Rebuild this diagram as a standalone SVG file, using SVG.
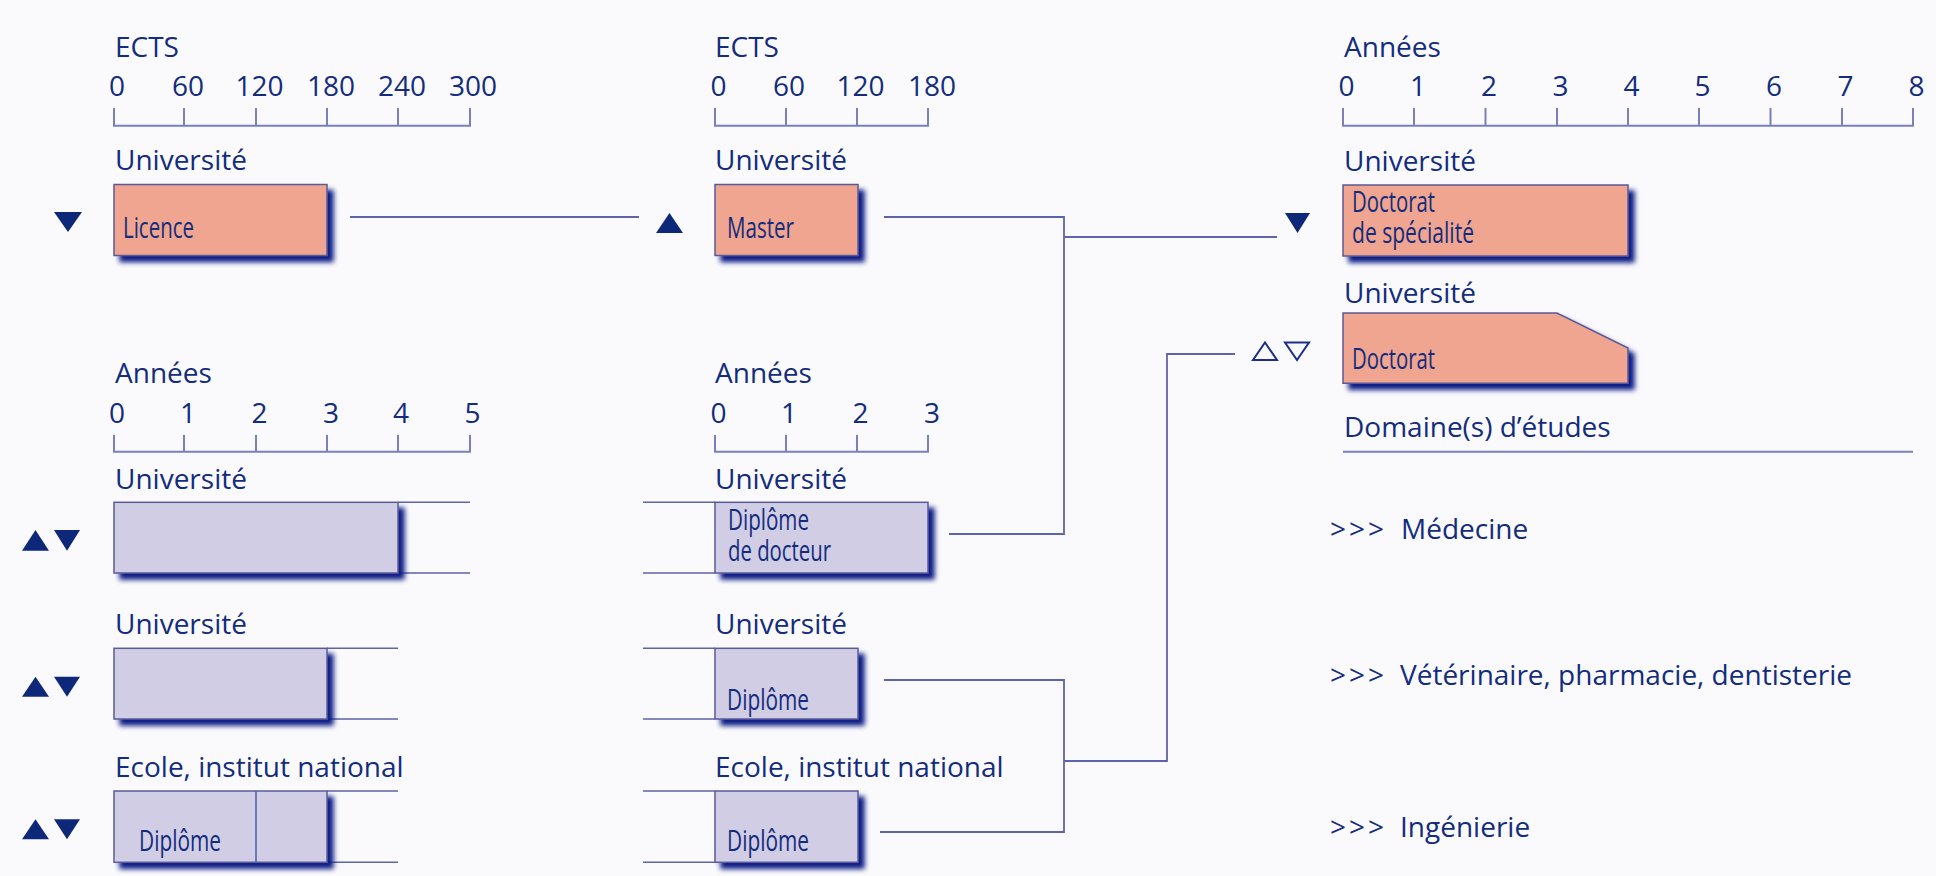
<svg xmlns="http://www.w3.org/2000/svg" width="1936" height="876" viewBox="0 0 1936 876">
<defs>
<style>
.t{font-family:"Open Sans","Noto Sans","Liberation Sans",sans-serif;font-size:28px;fill:#132C7D}
.n{text-anchor:middle}
.g{letter-spacing:3px}
.c{font-family:"Open Sans","Noto Sans","Liberation Sans",sans-serif;font-size:28.5px;fill:#132C7D}
.ax{fill:none;stroke:#7A7FBD;stroke-width:2}
.ln{fill:none;stroke:#5E63AA;stroke-width:1.8}
.ext{fill:none;stroke:#5E63AA;stroke-width:1.6}
.sal{fill:#EFA58F;stroke:#5A5A9A;stroke-width:1.5}
.lav{fill:#D1CDE5;stroke:#5A5A9A;stroke-width:1.5}
.tri{fill:#0D2878}
.otri{fill:none;stroke:#1B2F86;stroke-width:2}
</style>
<filter id="sh" x="-10%" y="-20%" width="130%" height="160%">
<feFlood flood-color="#0B1F85" result="f"/>
<feComposite in="f" in2="SourceAlpha" operator="in" result="s"/>
<feOffset in="s" dx="6" dy="6" result="o"/>
<feGaussianBlur in="o" stdDeviation="2.6" result="b"/>
<feMerge><feMergeNode in="b"/><feMergeNode in="SourceGraphic"/></feMerge>
</filter>
</defs>
<rect x="0" y="0" width="1936" height="876" fill="#FAFAFC"/>

<!-- Scales -->
<g id="scale-ects-1">
<text class="t" x="115" y="57">ECTS</text>
<text class="t n" x="117" y="96">0</text><text class="t n" x="188" y="96">60</text><text class="t n" x="259.5" y="96">120</text><text class="t n" x="331" y="96">180</text><text class="t n" x="402" y="96">240</text><text class="t n" x="473" y="96">300</text>
<path class="ax" d="M114 108V125.7H470V108M184 108V125.7M256 108V125.7M327 108V125.7M398 108V125.7"/>
</g>
<g id="scale-ects-2">
<text class="t" x="715" y="57">ECTS</text>
<text class="t n" x="718.5" y="96">0</text><text class="t n" x="789" y="96">60</text><text class="t n" x="860.5" y="96">120</text><text class="t n" x="932" y="96">180</text>
<path class="ax" d="M715 108V125.7H928V108M786 108V125.7M857 108V125.7"/>
</g>
<g id="scale-years-3">
<text class="t" x="1344" y="57">Années</text>
<text class="t n" x="1346.5" y="96">0</text><text class="t n" x="1418" y="96">1</text><text class="t n" x="1489" y="96">2</text><text class="t n" x="1560.5" y="96">3</text><text class="t n" x="1631.5" y="96">4</text><text class="t n" x="1702.5" y="96">5</text><text class="t n" x="1774" y="96">6</text><text class="t n" x="1845.5" y="96">7</text><text class="t n" x="1916.5" y="96">8</text>
<path class="ax" d="M1343 108V125.7H1913V108M1414 108V125.7M1485.5 108V125.7M1557 108V125.7M1628 108V125.7M1699 108V125.7M1770.5 108V125.7M1842 108V125.7"/>
</g>
<g id="scale-years-1">
<text class="t" x="115" y="383">Années</text>
<text class="t n" x="117" y="423">0</text><text class="t n" x="188" y="423">1</text><text class="t n" x="259.5" y="423">2</text><text class="t n" x="331" y="423">3</text><text class="t n" x="401" y="423">4</text><text class="t n" x="472.5" y="423">5</text>
<path class="ax" d="M114 435V451.7H470V435M184 435V451.7M256 435V451.7M327 435V451.7M398 435V451.7"/>
</g>
<g id="scale-years-2">
<text class="t" x="715" y="383">Années</text>
<text class="t n" x="718.5" y="423">0</text><text class="t n" x="789" y="423">1</text><text class="t n" x="860.5" y="423">2</text><text class="t n" x="932" y="423">3</text>
<path class="ax" d="M715 435V451.7H928V435M786 435V451.7M857 435V451.7"/>
</g>

<!-- Connectors -->
<g id="connectors">
<path class="ln" d="M350 217H639"/>
<path class="ln" d="M884 217H1064V534H949"/>
<path class="ln" d="M1064 237H1277"/>
<path class="ln" d="M884 680H1064V832H880"/>
<path class="ln" d="M1064 761H1167V354H1235"/>
</g>

<!-- Nodes -->
<g id="licence">
<text class="t" x="115" y="170">Université</text>
<rect class="sal" x="114" y="184.5" width="213" height="71" filter="url(#sh)"/>
<text class="c" x="123" y="237.5" textLength="71" lengthAdjust="spacingAndGlyphs">Licence</text>
<polygon class="tri" points="54,212 82,212 68,232"/>
</g>
<g id="master">
<text class="t" x="715" y="170">Université</text>
<rect class="sal" x="715" y="184.5" width="143" height="71" filter="url(#sh)"/>
<text class="c" x="727" y="237.5" textLength="67" lengthAdjust="spacingAndGlyphs">Master</text>
<polygon class="tri" points="656,233 683,233 669.5,213"/>
</g>
<g id="doctorat-specialite">
<text class="t" x="1344" y="171">Université</text>
<rect class="sal" x="1343" y="185" width="285" height="71" filter="url(#sh)"/>
<text class="c" x="1352" y="212" textLength="83" lengthAdjust="spacingAndGlyphs">Doctorat</text>
<text class="c" x="1352" y="243" textLength="122" lengthAdjust="spacingAndGlyphs">de spécialité</text>
<polygon class="tri" points="1285,213 1310,213 1297.5,233"/>
</g>
<g id="doctorat">
<text class="t" x="1344" y="303">Université</text>
<polygon class="sal" points="1343,313 1557,313 1628,348 1628,383.3 1343,383.3" filter="url(#sh)"/>
<text class="c" x="1352" y="368.5" textLength="83" lengthAdjust="spacingAndGlyphs">Doctorat</text>
<polygon class="otri" points="1253,360 1277,360 1265,342.5"/>
<polygon class="otri" points="1285,342.5 1309,342.5 1297,360"/>
</g>
<g id="domaines">
<text class="t" x="1344" y="437">Domaine(s) d’études</text>
<path class="ax" d="M1343 451.7H1913"/>
<text class="t"><tspan class="g" x="1330" y="538.5">&gt;&gt;&gt;</tspan><tspan x="1401" y="538.5">Médecine</tspan></text>
<text class="t"><tspan class="g" x="1330" y="685">&gt;&gt;&gt;</tspan><tspan x="1400" y="685">Vétérinaire, pharmacie, dentisterie</tspan></text>
<text class="t"><tspan class="g" x="1330" y="837">&gt;&gt;&gt;</tspan><tspan x="1400" y="837">Ingénierie</tspan></text>
</g>
<g id="univ-4ans">
<text class="t" x="115" y="488.5">Université</text>
<path class="ext" d="M398 502.3H470M398 573H470"/>
<rect class="lav" x="114" y="502.3" width="284" height="70.7" filter="url(#sh)"/>
<polygon class="tri" points="22,550.7 49,550.7 35.5,530"/>
<polygon class="tri" points="54,530 80,530 67,550.7"/>
</g>
<g id="diplome-docteur">
<text class="t" x="715" y="488.5">Université</text>
<path class="ext" d="M643 502.3H715M643 573H715"/>
<rect class="lav" x="715" y="502.3" width="213" height="70.7" filter="url(#sh)"/>
<text class="c" x="728" y="529.5" textLength="81" lengthAdjust="spacingAndGlyphs">Diplôme</text>
<text class="c" x="728" y="561" textLength="103" lengthAdjust="spacingAndGlyphs">de docteur</text>
</g>
<g id="univ-3ans">
<text class="t" x="115" y="633.5">Université</text>
<path class="ext" d="M327 648.3H398M327 719H398"/>
<rect class="lav" x="114" y="648.3" width="213" height="70.7" filter="url(#sh)"/>
<polygon class="tri" points="22,696.7 49,696.7 35.5,676.7"/>
<polygon class="tri" points="54,676.7 80,676.7 67,696.7"/>
</g>
<g id="univ-diplome">
<text class="t" x="715" y="633.5">Université</text>
<path class="ext" d="M643 648.3H715M643 719H715"/>
<rect class="lav" x="715" y="648.3" width="143" height="70.7" filter="url(#sh)"/>
<text class="c" x="727" y="710" textLength="82" lengthAdjust="spacingAndGlyphs">Diplôme</text>
</g>
<g id="ecole-3ans">
<text class="t" x="115" y="776.5">Ecole, institut national</text>
<path class="ext" d="M327 791H398M327 862.3H398"/>
<rect class="lav" x="114" y="791" width="213" height="71.3" filter="url(#sh)"/>
<path class="ext" d="M256 791V862.3"/>
<text class="c" x="139" y="851" textLength="82" lengthAdjust="spacingAndGlyphs">Diplôme</text>
<polygon class="tri" points="22,839.3 49,839.3 35.5,819.3"/>
<polygon class="tri" points="54,819.3 80,819.3 67,839.3"/>
</g>
<g id="ecole-diplome">
<text class="t" x="715" y="776.5">Ecole, institut national</text>
<path class="ext" d="M643 791H715M643 862.3H715"/>
<rect class="lav" x="715" y="791" width="143" height="71.3" filter="url(#sh)"/>
<text class="c" x="727" y="851" textLength="82" lengthAdjust="spacingAndGlyphs">Diplôme</text>
</g>
</svg>
